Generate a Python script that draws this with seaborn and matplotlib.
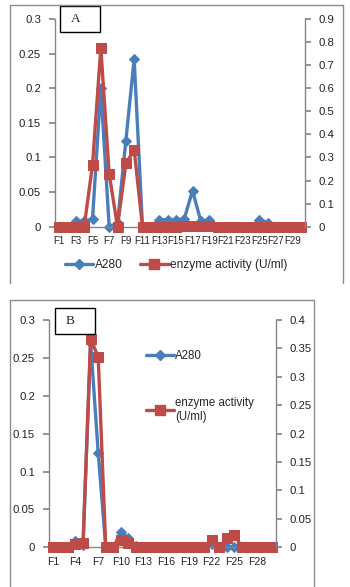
import matplotlib
matplotlib.use("Agg")
import matplotlib.pyplot as plt
import seaborn as sns
import pandas as pd
from matplotlib.lines import Line2D
from matplotlib.patches import Rectangle
from matplotlib.ticker import FixedLocator, FuncFormatter

# ---------------- data ----------------
fractions = ["F1", "F2", "F3", "F4", "F5", "F6", "F7", "F8", "F9", "F10",
             "F11", "F12", "F13", "F14", "F15", "F16", "F17", "F18", "F19", "F20",
             "F21", "F22", "F23", "F24", "F25", "F26", "F27", "F28", "F29", "F30"]

a280_A = [0, 0, 0.008, 0.008, 0.011, 0.2, 0, 0.005, 0.124, 0.242,
          0, 0, 0.01, 0.01, 0.01, 0.011, 0.052, 0.008, 0.01, 0,
          0, 0, 0, 0, 0.01, 0.006, 0, 0, 0, 0]
enzyme_A = [0, 0, 0, 0, 0.267, 0.776, 0.229, 0, 0.274, 0.332,
            0, 0, 0, 0, 0, 0.005, 0.005, 0.005, 0.005, 0,
            0, 0, 0, 0, 0, 0, 0, 0, 0, 0]

a280_B = [0, 0, 0, 0.008, 0.003, 0.27, 0.125, 0, 0, 0.02,
          0.012, 0.002, 0, 0, 0, 0, 0, 0, 0, 0,
          0, 0.005, 0, 0, 0.001, 0, 0, 0, 0, 0]
enzyme_B = [0, 0, 0, 0.005, 0.008, 0.367, 0.335, 0, 0, 0.012,
            0.008, 0, 0, 0, 0, 0, 0, 0, 0, 0,
            0, 0.012, 0, 0.017, 0.022, 0, 0, 0, 0, 0]

left_ticks = [0, 0.05, 0.1, 0.15, 0.2, 0.25, 0.3]
right_ticks_A = [0, 0.1, 0.2, 0.3, 0.4, 0.5, 0.6, 0.7, 0.8, 0.9]
right_ticks_B = [0, 0.05, 0.1, 0.15, 0.2, 0.25, 0.3, 0.35, 0.4]

label_a280 = "A280"
label_enz = "enzyme activity (U/ml)"
label_enz_B = "enzyme activity\n(U/ml)"

# ---------------- style ----------------
sns.set_theme(style="white")
plt.rcParams["font.family"] = ["Liberation Sans", "DejaVu Sans"]
BLUE = "#4A7EBB"
RED = "#BE4B48"
GRAY = "#868686"

W, H = 350, 587
fig = plt.figure(figsize=(W / 100, H / 100), dpi=100)


def fx(x):
    return x / W


def fy(y):
    return 1 - y / H


def gfmt(v, _):
    return "{:g}".format(round(v, 4))


def make_panel(rect, a280, enz, rticks, xstep, xfs):
    ax = fig.add_axes(rect)
    df = pd.DataFrame({"idx": list(range(len(fractions))), "a280": a280, "enz": enz})
    sns.lineplot(data=df, x="idx", y="a280", ax=ax, color=BLUE, linewidth=2.4,
                 marker="D", markersize=5.5, markeredgecolor=BLUE, clip_on=False,
                 label=label_a280, legend=False)
    ax2 = ax.twinx()
    sns.lineplot(data=df, x="idx", y="enz", ax=ax2, color=RED, linewidth=2.4,
                 marker="s", markersize=6.5, markeredgecolor=RED, clip_on=False,
                 label=label_enz, legend=False)
    n = len(fractions)
    for a in (ax, ax2):
        a.set_xlim(-0.5, n - 0.5)
        a.set_xlabel("")
        a.set_ylabel("")
        a.spines["top"].set_visible(False)
        a.patch.set_visible(False)
    ax.set_ylim(0, left_ticks[-1])
    ax2.set_ylim(0, rticks[-1])
    ax.yaxis.set_major_locator(FixedLocator(left_ticks))
    ax2.yaxis.set_major_locator(FixedLocator(rticks))
    ax.yaxis.set_major_formatter(FuncFormatter(gfmt))
    ax2.yaxis.set_major_formatter(FuncFormatter(gfmt))
    pos = list(range(0, n, xstep))
    ax.set_xticks(pos)
    ax.set_xticklabels([fractions[i] for i in pos], fontsize=xfs)
    ax.spines["right"].set_visible(False)
    ax2.spines["left"].set_visible(False)
    ax2.spines["bottom"].set_visible(False)
    ax.spines["left"].set_color(GRAY)
    ax.spines["bottom"].set_color(GRAY)
    ax2.spines["right"].set_color(GRAY)
    for s in ("left", "bottom"):
        ax.spines[s].set_linewidth(1.0)
    ax2.spines["right"].set_linewidth(1.0)
    ax.tick_params(axis="y", labelsize=8.2, length=4, color=GRAY, pad=6, left=True,
                   labelcolor="#222222")
    ax.tick_params(axis="x", length=0, pad=7, labelcolor="#222222")
    ax2.tick_params(axis="y", labelsize=8.2, length=4, color=GRAY, pad=6, right=True,
                    labelcolor="#222222")
    ax.grid(False)
    ax2.grid(False)
    return ax, ax2


# ---------------- panel A ----------------
axA, axA2 = make_panel([fx(55), fy(226.7), fx(305) - fx(55), fy(19) - fy(226.7)],
                       a280_A, enzyme_A, right_ticks_A, 2, 7)
# ---------------- panel B ----------------
axB, axB2 = make_panel([fx(49), fy(547.3), fx(276) - fx(49), fy(320) - fy(547.3)],
                       a280_B, enzyme_B, right_ticks_B, 3, 7.5)

# legends
hA = [Line2D([], [], color=BLUE, lw=2.4, marker="D", markersize=5.5),
      Line2D([], [], color=RED, lw=2.4, marker="s", markersize=6.5)]
fig.legend(hA, [label_a280, label_enz], loc="center",
           bbox_to_anchor=(fx(176), fy(265)), ncol=2, frameon=False,
           fontsize=8.6, handlelength=2.4, columnspacing=1.5, handletextpad=0.1)
fig.legend(hA, [label_a280, label_enz_B], loc="upper left",
           bbox_to_anchor=(fx(136), fy(340)), ncol=1, frameon=False,
           fontsize=8.3, handlelength=2.4, labelspacing=3.0, handletextpad=0.1)

# panel letter boxes
for (x0, y0, x1, y1, txt) in [(60, 6, 100, 32, "A"), (55, 308, 95, 334, "B")]:
    fig.add_artist(Rectangle((fx(x0), fy(y1)), fx(x1) - fx(x0), fy(y0) - fy(y1),
                             transform=fig.transFigure, fill=False,
                             edgecolor="black", linewidth=1.0))
    fig.text(fx(x0 + 11), fy((y0 + y1) / 2), txt, ha="left", va="center",
             fontsize=9.5, family=["Liberation Serif", "DejaVu Serif"])

# chart frames
frame_kw = dict(transform=fig.transFigure, color="#8c8c8c", linewidth=1.0)
fig.add_artist(Line2D([fx(10), fx(343)], [fy(5), fy(5)], **frame_kw))
fig.add_artist(Line2D([fx(10), fx(10)], [fy(5), fy(283)], **frame_kw))
fig.add_artist(Line2D([fx(343), fx(343)], [fy(5), fy(283)], **frame_kw))
fig.add_artist(Line2D([fx(10), fx(314)], [fy(300), fy(300)], **frame_kw))
fig.add_artist(Line2D([fx(10), fx(10)], [fy(300), fy(587)], **frame_kw))
fig.add_artist(Line2D([fx(314), fx(314)], [fy(300), fy(587)], **frame_kw))

fig.savefig("out.png", dpi=100)
